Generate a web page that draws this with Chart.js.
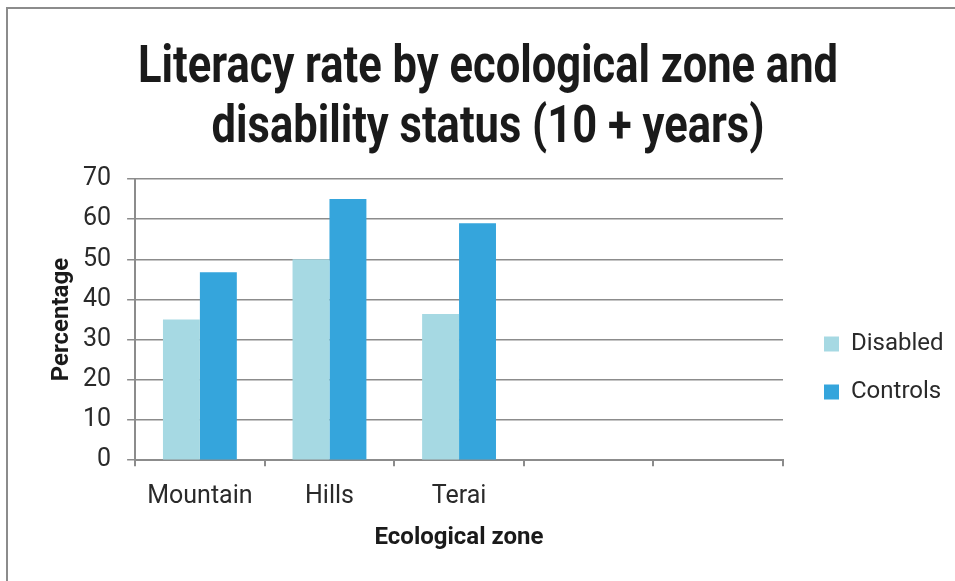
<!DOCTYPE html>
<html>
<head>
<meta charset="utf-8">
<script src="https://cdn.jsdelivr.net/npm/chart.js@4.4.1/dist/chart.umd.min.js"></script>
<style>
    html, body { margin: 0; padding: 0; background: #fff; }
    #frame {
        position: absolute; left: 6px; top: 7px;
        width: 960px; height: 590px;
        border-left: 2px solid #8c8c8c;
        border-top: 2px solid #8c8c8c;
    }
    #wrap { position: absolute; left: 0; top: 0; width: 955px; height: 581px; }
</style>
</head>
<body>
<div id="frame"></div>
<div id="wrap"><canvas id="literacyChart" width="955" height="581"></canvas></div>
<script>
// Zonas ecológicas (las dos últimas quedan vacías en el eje)
const zonas = ['Mountain', 'Hills', 'Terai', '', ''];
const disabled = [35, 50, 36.4, null, null];
const controls = [46.8, 65, 59, null, null];
const yTicks = [0, 10, 20, 30, 40, 50, 60, 70];
const titulo = ['Literacy rate by ecological zone and', 'disability status (10 + years)'];

const gris = '#8c8c8c';
const fuente = "Roboto, 'Open Sans', sans-serif";

// Título en letra estrecha: se dibuja a mano comprimiendo en horizontal
const tituloEstrecho = {
    id: 'tituloEstrecho',
    afterLayout(chart) {
        // la leyenda va un poco más arriba que el centro
        chart.legend.top -= 5;
        chart.legend.bottom -= 5;
    },
    afterDraw(chart) {
        const ctx = chart.ctx;
        ctx.save();
        ctx.font = 'bold 51px ' + fuente;
        ctx.fillStyle = '#1a1a1a';
        ctx.textAlign = 'center';
        ctx.textBaseline = 'alphabetic';
        const escala = 700 / ctx.measureText(titulo[0]).width;
        titulo.forEach((linea, i) => {
            ctx.save();
            ctx.translate(488, 82 + i * 60);
            ctx.scale(escala, 1);
            ctx.fillText(linea, 0, 0);
            ctx.restore();
        });
        ctx.restore();
    }
};

new Chart(document.getElementById('literacyChart'), {
    type: 'bar',
    data: {
        labels: zonas,
        datasets: [{
            label: 'Disabled',
            data: disabled,
            backgroundColor: '#a6d9e3',
            borderWidth: 0
        }, {
            label: 'Controls',
            data: controls,
            backgroundColor: '#35a5dc',
            borderWidth: 0
        }]
    },
    plugins: [tituloEstrecho],
    options: {
        responsive: false,
        animation: false,
        layout: { padding: { left: 50, right: 5, top: 179, bottom: 14 } },
        datasets: {
            bar: { barPercentage: 1, categoryPercentage: 0.57 }
        },
        plugins: {
            legend: {
                position: 'right',
                labels: {
                    color: '#2a2a2a',
                    font: { family: fuente, size: 24 },
                    boxWidth: 15,
                    boxHeight: 15,
                    padding: 24
                }
            },
            tooltip: { enabled: false }
        },
        scales: {
            x: {
                grid: {
                    display: true,
                    offset: true,
                    drawOnChartArea: false,
                    drawTicks: true,
                    tickLength: 6,
                    color: gris,
                    lineWidth: 2
                },
                border: { color: gris, width: 2 },
                ticks: {
                    color: '#2a2a2a',
                    font: { family: fuente, size: 25 },
                    padding: 16
                },
                title: {
                    display: true,
                    text: 'Ecological zone',
                    color: '#1a1a1a',
                    font: { family: fuente, size: 24, weight: 'bold' },
                    padding: { top: -5, bottom: 15 }
                }
            },
            y: {
                min: 0,
                max: 70,
                afterBuildTicks: axis => { axis.ticks = yTicks.map(v => ({ value: v })); },
                grid: {
                    color: gris,
                    lineWidth: 1.5,
                    tickLength: 8
                },
                border: { color: gris, width: 2 },
                ticks: {
                    color: '#2a2a2a',
                    font: { family: fuente, size: 25 },
                    padding: 16
                },
                title: {
                    display: true,
                    text: 'Percentage',
                    color: '#1a1a1a',
                    font: { family: fuente, size: 24, weight: 'bold', lineHeight: 1 },
                    padding: { top: 0, bottom: -7 }
                }
            },
            // eje vacío a la derecha: sólo separa el área del gráfico de la leyenda
            margen: {
                position: 'right',
                display: true,
                grid: { display: false },
                border: { display: false },
                ticks: { display: false },
                afterFit: s => { s.width = 17; }
            }
        }
    }
});
</script>
</body>
</html>
